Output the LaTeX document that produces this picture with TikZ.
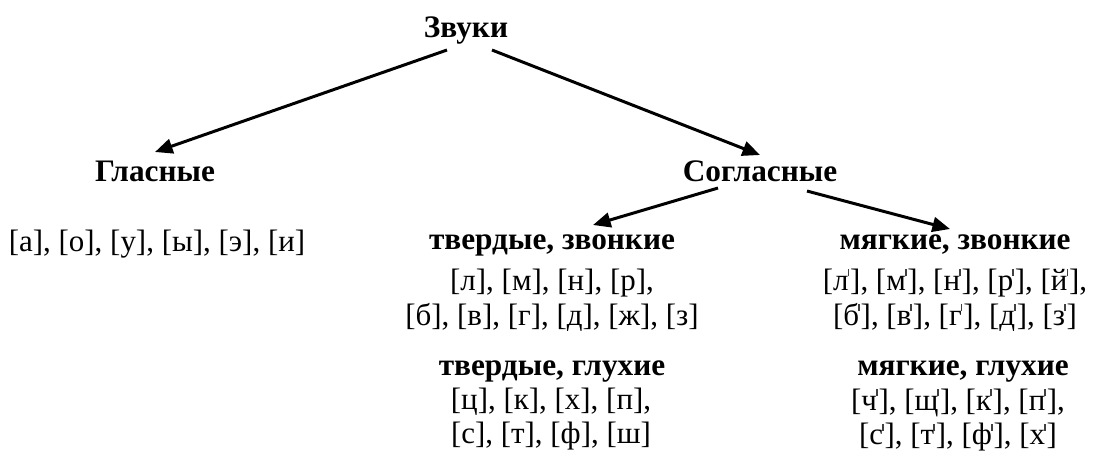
\documentclass[tikz,border=0pt]{standalone}
\usepackage{fontspec}
\setmainfont{Liberation Serif}
\newfontfamily\soundfont{Liberation Serif}
\usetikzlibrary{arrows.meta}
\newcommand\sft{\kern-0.03em\raisebox{0.45em}{\color{black!75}\rule{0.45pt}{0.24em}}\kern0.03em}
\tikzset{x=0.01cm, y=-0.01cm,
    head label/.style={font=\soundfont\fontsize{8.9}{11}\selectfont\bfseries, inner sep=1pt},
    sound list/.style={font=\soundfont\fontsize{8.8}{9.9}\selectfont, align=center, inner sep=1pt},
    tree arrow/.style={draw=black, line width=0.85pt,
          -{Triangle[length=5pt, width=4.2pt]}}
    }
\begin{document}
\begin{tikzpicture}
\useasboundingbox (0,0) rectangle (1094,450);
% headings
\node[head label] (zvuki) at (466,30) {Звуки};
\node[head label] (glasnye) at (155,171) {Гласные};
\node[head label] (soglasnye) at (760,171) {Согласные};
\node[head label] (tvzv) at (552,245) {твердые, звонкие};
\node[head label] (tvgl) at (552,371) {твердые, глухие};
\node[head label] (mzv) at (955,245) {мягкие, звонкие};
\node[head label] (mgl) at (963,371) {мягкие, глухие};
% sounds
\node[sound list] (glasnyelist) at (157,244) {[а], [о], [у], [ы], [э], [и]};
\node[sound list] (tvzvlist) at (552,300) {[л], [м], [н], [р],\\ {[б]}, [в], [г], [д], [ж], [з]};
\node[sound list] (tvgllist) at (551,419) {[ц], [к], [х], [п],\\ {[с]}, [т], [ф], [ш]};
\node[sound list] (mzvlist) at (955,300) {[л\sft], [м\sft], [н\sft], [р\sft], [й\sft],\\ {[б\sft]}, [в\sft], [г\sft], [д\sft], [з\sft]};
\node[sound list] (mgllist) at (958,420) {[ч\sft], [щ\sft], [к\sft], [п\sft],\\ {[с\sft]}, [т\sft], [ф\sft], [х\sft]};
% arrows
\draw[tree arrow] ([xshift=-0.19cm,yshift=-0.20cm]zvuki.center) -- ([yshift=0.19cm]glasnye.center);
\draw[tree arrow] ([xshift=0.26cm,yshift=-0.20cm]zvuki.center) -- ([yshift=0.16cm]soglasnye.center);
\draw[tree arrow] ([xshift=-0.42cm,yshift=-0.17cm]soglasnye.center) -- ([xshift=0.41cm,yshift=0.20cm]tvzv.center);
\draw[tree arrow] ([xshift=0.47cm,yshift=-0.20cm]soglasnye.center) -- ([xshift=-0.05cm,yshift=0.16cm]mzv.center);
\end{tikzpicture}
\end{document}
